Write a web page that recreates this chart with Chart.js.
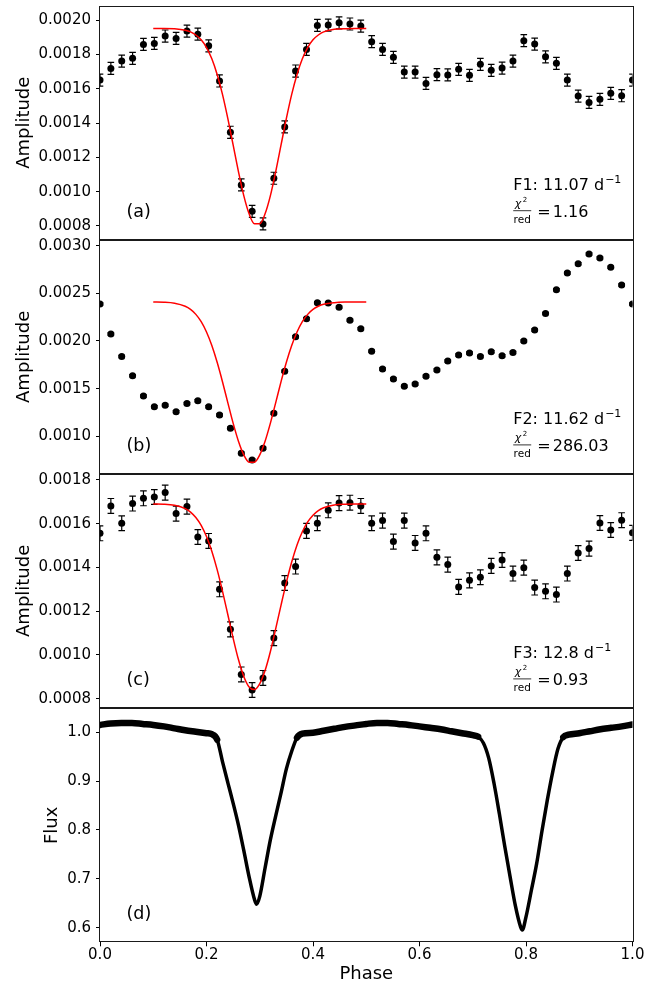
<!DOCTYPE html>
<html>
<head>
<meta charset="utf-8">
<script src="https://cdn.jsdelivr.net/npm/chart.js@4.4.1/dist/chart.umd.min.js"></script>
<style>
  body { margin: 0; background: #fff; }
  #wrap { position: relative; width: 662px; height: 985px; }
  #wrap canvas { position: absolute; left: 0; top: 0; }
</style>
</head>
<body>
<div id="wrap">
  <canvas id="panelA" width="662" height="985"></canvas>
  <canvas id="panelB" width="662" height="985"></canvas>
  <canvas id="panelC" width="662" height="985"></canvas>
  <canvas id="panelD" width="662" height="985"></canvas>
</div>
<script>
// phase bins (50 bins over one orbit)
const phases = [0.0000, 0.0204, 0.0408, 0.0612, 0.0816, 0.1020, 0.1224, 0.1429, 0.1633, 0.1837,
  0.2041, 0.2245, 0.2449, 0.2653, 0.2857, 0.3061, 0.3265, 0.3469, 0.3673, 0.3878,
  0.4082, 0.4286, 0.4490, 0.4694, 0.4898, 0.5102, 0.5306, 0.5510, 0.5714, 0.5918,
  0.6122, 0.6327, 0.6531, 0.6735, 0.6939, 0.7143, 0.7347, 0.7551, 0.7755, 0.7959,
  0.8163, 0.8367, 0.8571, 0.8776, 0.8980, 0.9184, 0.9388, 0.9592, 0.9796, 1.0000];

// amplitudes of F1, F2, F3 per phase bin
const ampF1 = [0.001650, 0.001718, 0.001761, 0.001777, 0.001858, 0.001864, 0.001907, 0.001893, 0.001936, 0.001918,
  0.001850, 0.001645, 0.001346, 0.001039, 0.000885, 0.000812, 0.001078, 0.001377, 0.001703, 0.001829,
  0.001969, 0.001971, 0.001984, 0.001977, 0.001965, 0.001874, 0.001829, 0.001783, 0.001697, 0.001697,
  0.001631, 0.001682, 0.001680, 0.001713, 0.001678, 0.001742, 0.001707, 0.001720, 0.001761, 0.001880,
  0.001860, 0.001786, 0.001748, 0.001650, 0.001557, 0.001520, 0.001538, 0.001573, 0.001559, 0.001650];
const ampF2 = [0.002388, 0.002073, 0.001836, 0.001636, 0.001423, 0.001311, 0.001325, 0.001259, 0.001343, 0.001374,
  0.001311, 0.001224, 0.001084, 0.000822, 0.000752, 0.000874, 0.001241, 0.001682, 0.002045, 0.002234,
  0.002402, 0.002397, 0.002355, 0.002217, 0.002129, 0.001892, 0.001706, 0.001601, 0.001524, 0.001549,
  0.001629, 0.001696, 0.001790, 0.001853, 0.001874, 0.001836, 0.001888, 0.001846, 0.001878, 0.002000,
  0.002115, 0.002287, 0.002538, 0.002713, 0.002811, 0.002913, 0.002871, 0.002773, 0.002587, 0.002388];
const ampF3 = [0.001556, 0.001681, 0.001602, 0.001692, 0.001716, 0.001722, 0.001742, 0.001646, 0.001678, 0.001539,
  0.001521, 0.001300, 0.001117, 0.000911, 0.000840, 0.000895, 0.001077, 0.001329, 0.001404, 0.001567,
  0.001602, 0.001661, 0.001694, 0.001696, 0.001681, 0.001602, 0.001614, 0.001518, 0.001614, 0.001512,
  0.001556, 0.001446, 0.001413, 0.001311, 0.001341, 0.001355, 0.001407, 0.001434, 0.001372, 0.001399,
  0.001308, 0.001291, 0.001276, 0.001372, 0.001466, 0.001486, 0.001603, 0.001571, 0.001616, 0.001558];

// error bar half-widths
const errF1 = 0.000035;
const errF2 = 0.000012;
const errF3 = 0.000034;

// fitted eclipse models (red curves)
const fitPhase = [0.10, 0.12, 0.14, 0.16, 0.17, 0.18, 0.19, 0.20, 0.21, 0.22, 0.23, 0.24, 0.25, 0.26, 0.27,
  0.28, 0.29, 0.30, 0.31, 0.32, 0.33, 0.34, 0.35, 0.36, 0.37, 0.38, 0.39, 0.40, 0.41, 0.42, 0.44, 0.46, 0.48, 0.50];
const fitF1 = [0.001951, 0.001951, 0.001949, 0.001941, 0.001931, 0.001913, 0.001885, 0.001840, 0.001774, 0.001683,
  0.001567, 0.001427, 0.001272, 0.001117, 0.000977, 0.000871, 0.000813, 0.000813, 0.000871, 0.000977,
  0.001117, 0.001272, 0.001427, 0.001567, 0.001683, 0.001774, 0.001840, 0.001885, 0.001913, 0.001931,
  0.001946, 0.001950, 0.001951, 0.001951];
const fitF2 = [0.002408, 0.002406, 0.002396, 0.002364, 0.002331, 0.002279, 0.002202, 0.002094, 0.001952, 0.001776,
  0.001573, 0.001354, 0.001138, 0.000948, 0.000805, 0.000729, 0.000729, 0.000805, 0.000948, 0.001138,
  0.001354, 0.001573, 0.001776, 0.001952, 0.002094, 0.002202, 0.002279, 0.002331, 0.002364, 0.002385,
  0.002402, 0.002408, 0.002409, 0.002409];
const fitF3 = [0.001690, 0.001689, 0.001684, 0.001669, 0.001653, 0.001628, 0.001592, 0.001541, 0.001474, 0.001390,
  0.001292, 0.001185, 0.001077, 0.000979, 0.000902, 0.000854, 0.000842, 0.000869, 0.000929, 0.001016,
  0.001120, 0.001228, 0.001332, 0.001425, 0.001503, 0.001563, 0.001608, 0.001639, 0.001660, 0.001673,
  0.001685, 0.001689, 0.001690, 0.001690];

// phase-folded light curve
const lcPhase = [0.00, 0.02, 0.04, 0.06, 0.08, 0.10, 0.12, 0.14, 0.16, 0.18, 0.20, 0.21, 0.22, 0.23, 0.24,
  0.25, 0.26, 0.27, 0.28, 0.29, 0.294, 0.30, 0.31, 0.32, 0.33, 0.34, 0.35, 0.36, 0.37, 0.38,
  0.40, 0.42, 0.44, 0.46, 0.48, 0.50, 0.52, 0.54, 0.56, 0.58, 0.60, 0.62, 0.64, 0.66, 0.68,
  0.70, 0.71, 0.72, 0.73, 0.74, 0.75, 0.76, 0.77, 0.78, 0.79, 0.793, 0.80, 0.81, 0.82, 0.83,
  0.84, 0.85, 0.86, 0.87, 0.88, 0.90, 0.92, 0.94, 0.96, 0.98, 1.00];
const lcFlux = [1.015, 1.018, 1.019, 1.019, 1.017, 1.015, 1.012, 1.008, 1.004, 1.001, 0.998, 0.996, 0.985, 0.940, 0.897,
  0.855, 0.810, 0.758, 0.704, 0.658, 0.648, 0.664, 0.722, 0.780, 0.829, 0.876, 0.925, 0.961, 0.989, 0.997,
  0.999, 1.003, 1.007, 1.011, 1.014, 1.017, 1.019, 1.019, 1.017, 1.015, 1.012, 1.009, 1.006, 1.002, 0.998,
  0.994, 0.991, 0.978, 0.947, 0.895, 0.833, 0.767, 0.705, 0.645, 0.601, 0.595, 0.622, 0.676, 0.731, 0.798,
  0.861, 0.918, 0.966, 0.990, 0.995, 0.998, 1.002, 1.006, 1.009, 1.012, 1.016];

// tick labels
const xTicks = [0.0, 0.2, 0.4, 0.6, 0.8, 1.0];
const yTicksA = [0.0008, 0.0010, 0.0012, 0.0014, 0.0016, 0.0018, 0.0020];
const yTicksB = [0.0010, 0.0015, 0.0020, 0.0025, 0.0030];
const yTicksC = [0.0008, 0.0010, 0.0012, 0.0014, 0.0016, 0.0018];
const yTicksD = [0.6, 0.7, 0.8, 0.9, 1.0];

Chart.defaults.font.family = "'DejaVu Sans', sans-serif";
Chart.defaults.color = '#000';

const FONT = '"DejaVu Sans"';

const errorBarPlugin = {
  id: 'errorBars',
  beforeDatasetsDraw(chart, args, opts) {
    if (!opts.err) return;
    const {ctx, chartArea, scales: {x, y}} = chart;
    const ds = chart.data.datasets[opts.index];
    ctx.save();
    ctx.beginPath();
    ctx.rect(chartArea.left, chartArea.top, chartArea.width, chartArea.height);
    ctx.clip();
    ctx.strokeStyle = '#000';
    ctx.lineWidth = 1.2;
    ds.data.forEach(p => {
      const px = x.getPixelForValue(p.x);
      const y0 = y.getPixelForValue(p.y - opts.err);
      const y1 = y.getPixelForValue(p.y + opts.err);
      ctx.beginPath();
      ctx.moveTo(px, y0); ctx.lineTo(px, y1);
      ctx.moveTo(px - 3.3, y0); ctx.lineTo(px + 3.3, y0);
      ctx.moveTo(px - 3.3, y1); ctx.lineTo(px + 3.3, y1);
      ctx.stroke();
    });
    ctx.restore();
  }
};

const panelTextPlugin = {
  id: 'panelText',
  afterDraw(chart, args, opts) {
    const {ctx, chartArea: ca} = chart;
    ctx.save();
    // axes frame
    ctx.strokeStyle = '#1a1a1a';
    ctx.lineWidth = 1;
    ctx.strokeRect(Math.round(ca.left) - 0.5, Math.round(ca.top) + 0.5,
      Math.round(ca.width) + 1, Math.round(ca.height) - 1);
    ctx.fillStyle = '#000';
    ctx.textBaseline = 'alphabetic';
    // panel tag
    ctx.font = '17.5px ' + FONT;
    ctx.textAlign = 'left';
    ctx.fillText(opts.tag, ca.left + 26.5, ca.bottom - opts.tagUp);
    if (opts.freq) {
      const x = ca.left + 0.776 * ca.width;
      const yb = ca.bottom - 50;
      ctx.font = '16px ' + FONT;
      ctx.fillText(opts.freq, x, yb);
      const w = ctx.measureText(opts.freq).width;
      ctx.font = '11px ' + FONT;
      ctx.fillText('\u22121', x + w + 1, yb - 6.5);
      // chi^2_red fraction
      ctx.font = 'italic 11px ' + FONT;
      ctx.fillText('\u03c7', x + 1.5, ca.bottom - 33);
      ctx.font = '7px ' + FONT;
      ctx.fillText('2', x + 9.5, ca.bottom - 37.5);
      ctx.beginPath();
      ctx.lineWidth = 0.8;
      ctx.strokeStyle = '#000';
      ctx.moveTo(x, ca.bottom - 28.8);
      ctx.lineTo(x + 18, ca.bottom - 28.8);
      ctx.stroke();
      ctx.font = '10.5px ' + FONT;
      ctx.textAlign = 'center';
      ctx.fillText('red', x + 9, ca.bottom - 16.8);
      ctx.textAlign = 'left';
      ctx.font = '16px ' + FONT;
      ctx.fillText('=', x + 24, ca.bottom - 22.8);
      ctx.fillText(opts.chi, x + 39.5, ca.bottom - 22.8);
    }
    ctx.restore();
  }
};

function makePanel(canvasId, p) {
  const datasets = [];
  if (p.fit) {
    datasets.push({
      type: 'line',
      data: fitPhase.map((ph, i) => ({x: ph, y: p.fit[i]})),
      borderColor: '#ff0000',
      borderWidth: 1.5,
      pointRadius: 0,
      cubicInterpolationMode: 'monotone',
      clip: 0
    });
  }
  if (p.amp) {
    datasets.push({
      type: 'scatter',
      data: phases.map((ph, i) => ({x: ph, y: p.amp[i]})),
      backgroundColor: '#000',
      borderColor: '#000',
      pointRadius: 3.5,
      borderWidth: 0,
      clip: 0
    });
  }
  if (p.lc) {
    datasets.push({
      type: 'line',
      data: lcPhase.map((ph, i) => ({x: ph, y: lcFlux[i]})),
      borderColor: '#000',
      borderWidth: 6.5,
      borderCapStyle: 'round',
      borderJoinStyle: 'round',
      pointRadius: 0,
      cubicInterpolationMode: 'monotone',
      segment: {
        borderWidth: ctx => (Math.min(lcFlux[ctx.p0DataIndex], lcFlux[ctx.p1DataIndex]) < 0.985 ? 3.5 : 6.5)
      },
      clip: 0
    });
  }

  return new Chart(document.getElementById(canvasId), {
    data: {datasets},
    plugins: [errorBarPlugin, panelTextPlugin],
    options: {
      responsive: false,
      animation: false,
      devicePixelRatio: 1,
      events: [],
      layout: {padding: {top: p.top, bottom: p.padBottom, left: 0, right: 29.5}},
      plugins: {
        legend: {display: false},
        tooltip: {enabled: false},
        errorBars: {err: p.err, index: p.fit ? 1 : 0},
        panelText: {tag: p.tag, tagUp: p.tagUp, freq: p.freq, chi: p.chi}
      },
      scales: {
        x: {
          type: 'linear', min: 0, max: 1,
          display: !!p.showX,
          afterBuildTicks: s => { s.ticks = xTicks.map(v => ({value: v})); },
          afterFit: s => {
            s.height = p.showX ? 42.7 : 0;
            s.paddingLeft = 0; s.paddingRight = 0;
          },
          ticks: {font: {size: 15}, padding: 0, maxRotation: 0, callback: v => v.toFixed(1)},
          grid: {display: true, drawOnChartArea: false, drawTicks: true, tickLength: 4, color: '#000'},
          border: {display: false},
          title: {display: true, text: 'Phase', font: {size: 18}, padding: {top: 0, bottom: 0}}
        },
        y: {
          type: 'linear', min: p.ymin, max: p.ymax,
          afterBuildTicks: s => { s.ticks = p.yTicks.map(v => ({value: v})); },
          afterFit: s => { s.width = 100; s.paddingTop = 0; s.paddingBottom = 0; },
          ticks: {font: {size: 15}, padding: 5, callback: v => v.toFixed(p.dec)},
          grid: {display: true, drawOnChartArea: false, drawTicks: true, tickLength: 4, color: '#000'},
          border: {display: false},
          title: {display: true, text: p.ytitle, font: {size: 18}, padding: {top: p.titlePad, bottom: 0}}
        }
      }
    }
  });
}

makePanel('panelA', {
  top: 6, padBottom: 985 - 239.5, ymin: 0.000721, ymax: 0.002082, yTicks: yTicksA, dec: 4,
  amp: ampF1, fit: fitF1, err: errF1, ytitle: 'Amplitude', titlePad: 13.5,
  tag: '(a)', tagUp: 22.5, freq: 'F1: 11.07 d', chi: '1.16'
});
makePanel('panelB', {
  top: 240, padBottom: 985 - 473.7, ymin: 0.000608, ymax: 0.003059, yTicks: yTicksB, dec: 4,
  amp: ampF2, fit: fitF2, err: errF2, ytitle: 'Amplitude', titlePad: 13.5,
  tag: '(b)', tagUp: 22.5, freq: 'F2: 11.62 d', chi: '286.03'
});
makePanel('panelC', {
  top: 474, padBottom: 985 - 707.7, ymin: 0.000759, ymax: 0.001827, yTicks: yTicksC, dec: 4,
  amp: ampF3, fit: fitF3, err: errF3, ytitle: 'Amplitude', titlePad: 13.5,
  tag: '(c)', tagUp: 22.5, freq: 'F3: 12.8 d', chi: '0.93'
});
makePanel('panelD', {
  top: 708.3, padBottom: 0, ymin: 0.570, ymax: 1.049, yTicks: yTicksD, dec: 1,
  lc: true, showX: true, ytitle: 'Flux', titlePad: 41.7,
  tag: '(d)', tagUp: 23.5
});
</script>
</body>
</html>
